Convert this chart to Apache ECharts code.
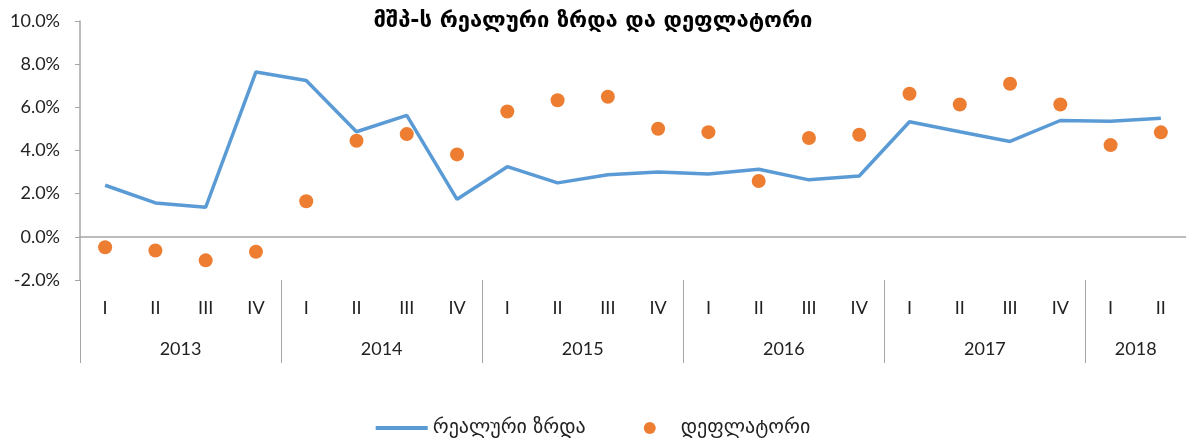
<!DOCTYPE html>
<html lang="ka">
<head>
    <meta charset="utf-8"/>
    <title>მშპ-ს რეალური ზრდა და დეფლატორი</title>
    <script src="https://cdn.jsdelivr.net/npm/echarts@6/dist/echarts.min.js"></script>
    <style>
        html, body { margin: 0; height: 100%; background: #FFFFFF; }
        #chart { width: 1186px; height: 439px; }
    </style>
</head>
<body>
<div id="chart"></div>
<script>
    // quarters 2013 I .. 2018 II
    var quarters = ['I', 'II', 'III', 'IV', 'I', 'II', 'III', 'IV', 'I', 'II', 'III', 'IV',
        'I', 'II', 'III', 'IV', 'I', 'II', 'III', 'IV', 'I', 'II']
    var years = ['2013', '2014', '2015', '2016', '2017', '2018']
    var yearQuarters = [4, 4, 4, 4, 4, 2]

    var realGrowth = [2.39, 1.57, 1.37, 7.64, 7.24, 4.87, 5.63, 1.74, 3.25, 2.50, 2.88, 3.00,
        2.91, 3.13, 2.64, 2.82, 5.33, 4.87, 4.42, 5.39, 5.35, 5.49]
    var deflator = [-0.48, -0.63, -1.09, -0.69, 1.65, 4.45, 4.76, 3.82, 5.81, 6.33, 6.49, 5.01,
        4.85, 2.59, 4.58, 4.73, 6.63, 6.13, 7.09, 6.13, 4.25, 4.84]

    var seriesNames = ['რეალური ზრდა', 'დეფლატორი']
    var titleText = 'მშპ-ს რეალური ზრდა და დეფლატორი'

    // year axis: one point per quarter boundary, year name at the middle of its group
    var yearPoints = []
    var yearEdges = [0]
    for (var i = 0; i <= quarters.length; i++) yearPoints.push('')
    var pos = 0
    years.forEach(function (y, k) {
        yearPoints[pos + yearQuarters[k] / 2] = y
        pos += yearQuarters[k]
        yearEdges.push(pos)
    })

    var font = 'Lato, "DejaVu Sans", sans-serif'
    var geo = '"DejaVu Sans", sans-serif'
    var axisColor = '#A6A6A6'

    var chart = echarts.init(document.getElementById('chart'))
    chart.setOption({
        animation: false,
        title: {
            text: titleText,
            left: 'center',
            top: 5,
            textStyle: { fontFamily: geo, fontSize: 22, fontWeight: 'bold', color: '#000' }
        },
        legend: {
            data: [
                { name: seriesNames[0], icon: 'path://M0,0 L52,0 L52,4 L0,4 Z' },
                { name: seriesNames[1], icon: 'circle' }
            ],
            left: 'center',
            top: 413,
            itemWidth: 52,
            itemHeight: 12,
            itemGap: 58,
            textStyle: { fontFamily: geo, fontSize: 20, color: '#222' }
        },
        grid: { left: 80, right: -4, top: 21, bottom: 159 },
        xAxis: [{
            type: 'category',
            data: quarters,
            axisLine: { onZero: true, lineStyle: { color: axisColor, width: 1.5 } },
            axisTick: { length: 6, interval: 0, lineStyle: { color: axisColor } },
            axisLabel: { show: false }
        }, {
            type: 'category',
            data: quarters,
            position: 'bottom',
            axisLine: { show: false, onZero: false },
            axisTick: { length: 42, interval: 0, lineStyle: { color: axisColor } },
            axisLabel: { interval: 0, margin: 19, fontFamily: font, fontSize: 18, color: '#222' }
        }, {
            type: 'category',
            data: yearPoints,
            boundaryGap: false,
            position: 'bottom',
            axisLine: { show: false, onZero: false },
            axisTick: {
                length: 83,
                interval: function (idx) { return yearEdges.indexOf(idx) >= 0 },
                lineStyle: { color: axisColor }
            },
            axisLabel: {
                interval: function (idx, v) { return v !== '' },
                margin: 60, fontFamily: font, fontSize: 18, color: '#222'
            }
        }],
        yAxis: {
            type: 'value',
            min: -2,
            max: 10,
            interval: 2,
            splitLine: { show: false },
            axisLine: { show: true, lineStyle: { color: axisColor, width: 1.5 } },
            axisTick: { show: true, length: 5, lineStyle: { color: axisColor } },
            axisLabel: {
                margin: 20, fontFamily: font, fontSize: 18, color: '#222',
                formatter: function (v) { return v.toFixed(1) + '%' }
            }
        },
        series: [{
            name: seriesNames[0],
            type: 'line',
            data: realGrowth,
            symbol: 'none',
            lineStyle: { color: '#5B9BD5', width: 3.5 },
            itemStyle: { color: '#5B9BD5' }
        }, {
            name: seriesNames[1],
            type: 'scatter',
            data: deflator,
            symbolSize: 14,
            itemStyle: { color: '#ED7D31', opacity: 1 }
        }]
    })
</script>
</body>
</html>
